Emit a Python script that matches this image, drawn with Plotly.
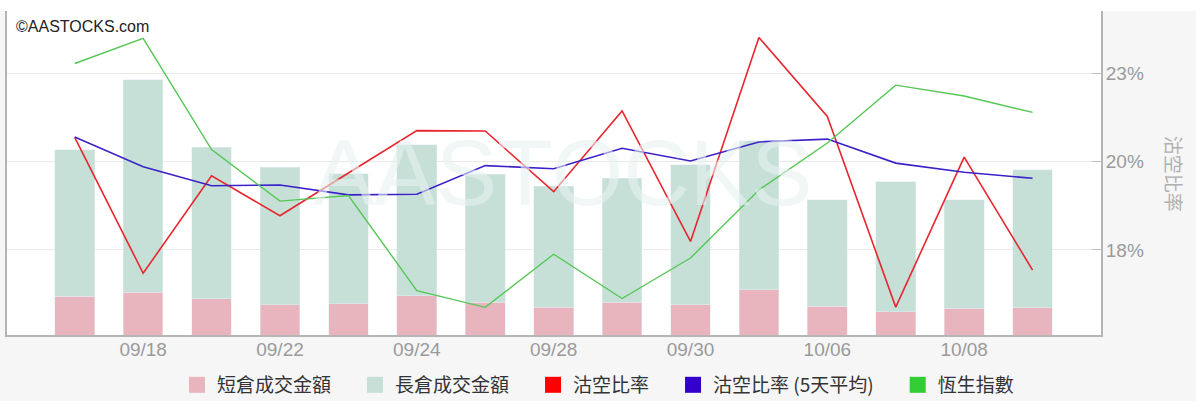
import plotly.graph_objects as go

# ---- data ----
dates = ["09/17", "09/18", "09/21", "09/22", "09/23", "09/24", "09/25", "09/28",
         "09/29", "09/30", "10/05", "10/06", "10/07", "10/08", "10/09"]
tick_dates = ["09/18", "09/22", "09/24", "09/28", "09/30", "10/06", "10/08"]

short_turnover = [21.5, 23.9, 20.3, 16.8, 17.4, 21.9, 18.3, 15.5, 18.3, 16.8, 25.2, 15.9, 13.1, 14.9, 15.2]
long_turnover = [81.9, 118.5, 84.3, 76.7, 72.4, 84.1, 71.2, 67.4, 69.1, 78.2, 83.2, 59.6, 72.4, 60.6, 76.9]

short_ratio = [20.69, 16.84, 19.60, 18.47, 19.68, 20.88, 20.87, 19.15, 21.44, 17.74,
               23.52, 21.28, 15.88, 20.13, 16.93]
short_ratio_5d = [20.70, 19.86, 19.32, 19.34, 19.06, 19.08, 19.89, 19.80, 20.38, 20.02,
                  20.56, 20.64, 19.96, 19.70, 19.53]
hsi = [24340.85, 24455.36, 23950.69, 23716.85, 23742.51, 23311.07, 23235.42, 23476.05,
       23275.53, 23459.05, 23767.78, 23980.66, 24242.86, 24193.35, 24119.13]

ratio_tickvals = [17.5, 20, 22.5]
ratio_ticktext = ["18%", "20%", "23%"]

names = ["短倉成交金額", "長倉成交金額", "沽空比率", "沽空比率 (5天平均)", "恆生指數"]
legend_colors = ["#e8b4be", "#c6e0d7", "#ff0000", "#3300cc", "#33cc33"]

# ---- styles ----
PINK = "#e8b4be"
SAGE = "#c6e0d7"
RED = "#e8262e"
BLUE = "#3a22c8"
GREEN = "#55c755"
GRAY_TXT = "#9a9a9a"
AXIS = "#b5b5b5"
GAP = "\u3000"  # extra spacing between legend entries

fig = go.Figure()

fig.add_trace(go.Bar(x=dates, y=short_turnover, name=names[0], marker_color=PINK,
                     width=0.58, yaxis="y", showlegend=False, legendgroup="a"))
fig.add_trace(go.Bar(x=dates, y=long_turnover, name=names[1], marker_color=SAGE,
                     width=0.58, yaxis="y", showlegend=False, legendgroup="b"))
fig.add_trace(go.Scatter(x=dates, y=short_ratio, name=names[2], mode="lines",
                         line=dict(color=RED, width=1.6), yaxis="y2",
                         showlegend=False, legendgroup="c"))
fig.add_trace(go.Scatter(x=dates, y=short_ratio_5d, name=names[3], mode="lines",
                         line=dict(color=BLUE, width=1.6), yaxis="y2",
                         showlegend=False, legendgroup="d"))
fig.add_trace(go.Scatter(x=dates, y=hsi, name=names[4], mode="lines",
                         line=dict(color=GREEN, width=1.4), yaxis="y3",
                         showlegend=False, legendgroup="e"))

# legend entries with square swatches
for i, (nm, col, grp) in enumerate(zip(names, legend_colors, ["a", "b", "c", "d", "e"])):
    label = nm + (GAP if i < len(names) - 1 else "")
    fig.add_trace(go.Scatter(x=[None], y=[None], mode="markers", name=label,
                             marker=dict(symbol="square", size=18, color=col),
                             legendgroup=grp, yaxis="y2", showlegend=True))

fig.update_layout(
    width=1196, height=401,
    margin=dict(l=7, r=95, t=11, b=66, autoexpand=False),
    paper_bgcolor="#f6f6f6",
    plot_bgcolor="#ffffff",
    barmode="stack",
    xaxis=dict(type="category", range=[-0.99, 15.0], showgrid=False,
               tickmode="array", tickvals=tick_dates, ticktext=tick_dates,
               ticks="", showline=True, linecolor=AXIS, linewidth=2,
               ticklabelstandoff=-4, automargin=False,
               tickfont=dict(family="Liberation Sans", size=19, color=GRAY_TXT),
               zeroline=False),
    yaxis=dict(range=[0, 180.6], showgrid=False, showticklabels=False, ticks="",
               showline=True, linecolor=AXIS, linewidth=2, zeroline=False,
               automargin=False),
    yaxis2=dict(overlaying="y", side="right", range=[15.09, 24.27],
                tickmode="array", tickvals=ratio_tickvals, ticktext=ratio_ticktext,
                ticks="inside", ticklen=9, tickcolor="#c0c0c0", tickwidth=1,
                ticklabelstandoff=-1, automargin=False,
                showgrid=True, gridcolor="#e9e9e9", gridwidth=1,
                showline=True, linecolor=AXIS, linewidth=2, zeroline=False,
                tickfont=dict(family="Liberation Sans", size=19, color=GRAY_TXT)),
    yaxis3=dict(overlaying="y", range=[23110, 24579], visible=False),
    legend=dict(orientation="h", xref="container", yref="container",
                x=0.5, xanchor="center", y=0.04, yanchor="middle",
                font=dict(family="Noto Sans CJK TC", size=19, color="#333333"),
                bgcolor="rgba(0,0,0,0)", itemclick=False, itemdoubleclick=False),
    shapes=[dict(type="rect", xref="paper", yref="paper", x0=-0.02, x1=1.2,
                 y0=1.0, y1=1.06, fillcolor="#ffffff", line=dict(width=0),
                 layer="below")],
    annotations=[
        dict(text="©AASTOCKS.com", xref="paper", yref="paper", x=0.006, y=0.951,
             xanchor="left", yanchor="middle", showarrow=False,
             font=dict(family="Liberation Sans", size=16, color="#222222")),
        dict(text="AASTOCKS", xref="paper", yref="paper", x=0.508, y=0.50,
             xanchor="center", yanchor="middle", showarrow=False,
             font=dict(family="Liberation Sans", size=92, color="rgba(232,240,240,0.6)")),
        dict(text="沽空比率", xref="paper", yref="paper", x=1.067, y=0.497,
             xanchor="center", yanchor="middle", textangle=90, showarrow=False,
             font=dict(family="Noto Sans CJK TC", size=19, color="#b0b0b0")),
    ],
)

fig.write_html("out.html", config={"displayModeBar": False},
               post_script="document.body.style.margin='0';document.body.style.padding='0';")
